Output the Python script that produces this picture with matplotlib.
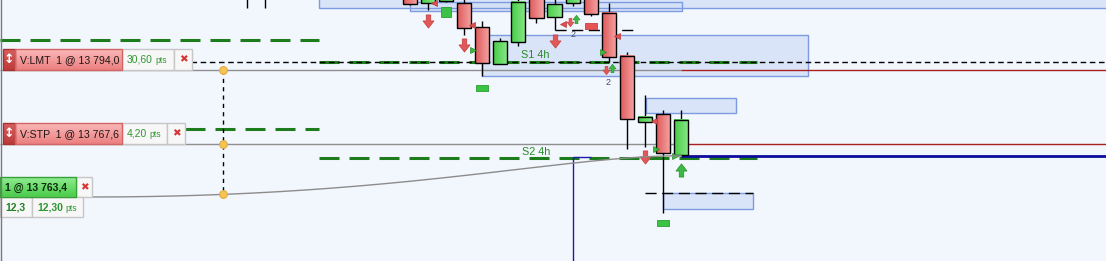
import numpy as np
import matplotlib
matplotlib.use("Agg")
import matplotlib.pyplot as plt
from matplotlib.patches import Rectangle, PathPatch
from matplotlib.path import Path
from matplotlib.colors import LinearSegmentedColormap

plt.rcParams["font.family"] = ["Liberation Sans", "DejaVu Sans"]
plt.rcParams["lines.scale_dashes"] = False

# ---------------- market data ----------------
bars   = [-9, -8, 0, 1, 2, 3, 4, 5, 6, 7, 8, 9, 10, 11, 12, 13, 14, 15]
opens  = [13826.0, 13824.0, 13822.0, 13817.9, 13818.5, 13817.9, 13809.3, 13796.1, 13804.0,
          13821.5, 13812.9, 13817.9, 13822.0, 13814.3, 13799.0, 13775.4, 13778.3, 13763.7]
highs  = [13829.0, 13829.0, 13823.5, 13821.0, 13822.0, 13820.0, 13811.5, 13805.4, 13821.0,
          13823.0, 13819.5, 13822.0, 13823.5, 13817.9, 13800.4, 13785.1, 13779.7, 13779.7]
lows   = [13816.1, 13816.1, 13817.3, 13815.4, 13818.3, 13806.5, 13791.9, 13796.1, 13802.6,
          13810.8, 13808.3, 13817.0, 13813.3, 13796.9, 13765.8, 13766.5, 13743.0, 13763.7]
closes = [13823.5, 13826.5, 13817.6, 13820.5, 13822.0, 13809.0, 13796.5, 13804.3, 13818.3,
          13812.6, 13817.5, 13821.0, 13814.0, 13798.6, 13776.5, 13777.2, 13764.4, 13776.2]

# support / resistance zones (bar range, price range)
zone_x0 = [-5.05, 0.0, 4.0, 13.05, 14.0]
zone_x1 = [40.0, 15.05, 22.0, 18.05, 19.0]
zone_lo = [13816.1, 13815.0, 13791.9, 13778.7, 13744.4]
zone_hi = [13830.0, 13818.3, 13806.5, 13784.0, 13750.1]

# horizontal levels
level_r_upper = 13804.7
level_s1 = 13797.0
level_stp_zone = 13772.9
level_s2 = 13762.6
level_tick = 13808.3
level_low_ref = 13750.1

# orders
lmt_price = 13794.0
stp_price = 13767.6
entry_price = 13763.4
order_labels = ["V:LMT  1 @ 13 794,0", "V:STP  1 @ 13 767,6"]
order_pts = ["30,60", "4,20"]
entry_label = "1 @ 13 763,4"
entry_qty_pts = ["12,3", "12,30"]

# signal markers (bar, price)
down_big_x = [1, 3, 8, 13]
down_big_y = [13811.5, 13802.9, 13804.3, 13763.0]
up_big_x = [15]
up_big_y = [13758.3]
down_small_x = [8.83, 10.86]
down_small_y = [13811.0, 13793.9]
up_small_x = [9.17, 11.17]
up_small_y = [13812.2, 13794.6]
count_x = [9.0, 10.97]
count_y = [13806.8, 13789.7]
count_txt = ["2", "2"]
sq_green_x = [2, 4, 14]
sq_green_y = [13814.7, 13787.6, 13739.4]
sq_red_x = [10]
sq_red_y = [13809.7]
tri_r_x = [3.5, 10.7, 13.6, 14.65]
tri_r_y = [13801.1, 13800.4, 13765.8, 13763.3]
tri_l_x = [1.35, 3.45, 8.45, 11.45, 13.5]
tri_l_y = [13817.9, 13809.9, 13810.5, 13806.2, 13775.7]

W, H = 1106, 261
BG = "#f2f6fd"

fig = plt.figure(figsize=(W / 100, H / 100), dpi=100)
fig.patch.set_facecolor(BG)
ax = fig.add_axes([0, 0, 1, 1])
ax.set_facecolor(BG)
XL = (-22.69, 38.52)
YL = (13725.86, 13818.97)
ax.set_xlim(*XL)
ax.set_ylim(*YL)
ax.axis("off")

ui = fig.add_axes([0, 0, 1, 1])
ui.set_xlim(0, W)
ui.set_ylim(H, 0)
ui.axis("off")
ui.patch.set_alpha(0)


def to_ui(bx, pr):
    X, Y = ax.transData.transform((bx, pr))
    return X, H - Y


def grad(a, x0, x1, y0, y1, c0, c1, horizontal, z):
    cmap = LinearSegmentedColormap.from_list("g", [c0, c1])
    g = np.linspace(0, 1, 64)
    img = g.reshape(1, -1) if horizontal else g.reshape(-1, 1)
    a.imshow(img, cmap=cmap, extent=(x0, x1, y0, y1), origin="lower" if horizontal else "upper",
             aspect="auto", interpolation="bilinear", zorder=z)


# ---------------- zones ----------------
for x0, x1, lo, hi in zip(zone_x0, zone_x1, zone_lo, zone_hi):
    ax.add_patch(Rectangle((x0, lo), x1 - x0, hi - lo, facecolor="#d3dff7", alpha=0.75,
                           edgecolor="none", zorder=1))
    ax.add_patch(Rectangle((x0, lo), x1 - x0, hi - lo, fill=False,
                           edgecolor="#7d9be0", lw=1, zorder=1.1))

# ---------------- levels ----------------
green_dash = (0, (14.4, 7.2))
gcol = "#1d7d1d"
ax.hlines(level_r_upper, XL[0], -5.05, color=gcol, lw=2.2, linestyle=green_dash, zorder=2)
ax.hlines(level_stp_zone, -12.45, -5.05, color=gcol, lw=2.2, linestyle=green_dash, zorder=2)
ax.hlines(level_s1, -5.05, 19.2, color=gcol, lw=2.2, linestyle=green_dash, zorder=2)
ax.hlines(level_s2, -5.05, 19.2, color=gcol, lw=2.2, linestyle=green_dash, zorder=2)
ax.hlines(level_s1, -12.1, XL[1], color="black", lw=1, linestyle=(0, (4.0, 2.6)), zorder=2.2)
ax.hlines(level_tick, 8.0, 12.5, color="black", lw=1, linestyle=(0, (8, 4)), zorder=2.1)
ax.hlines(level_low_ref, 13.0, 19.0, color="black", lw=1, linestyle=(0, (8, 4)), zorder=2.1)
ax.text(6.96, 13799.35, "S1 4h", color="#2a8a2a", fontsize=7.8, ha="center", va="center", zorder=2.3)
ax.text(6.96, 13764.75, "S2 4h", color="#2a8a2a", fontsize=7.8, ha="center", va="center", zorder=2.3)

# order lines: grey up to the last bar, dark red beyond it
last_bar = bars[-1]
for pr in (lmt_price, stp_price):
    ax.hlines(pr, XL[0], last_bar, color="#8f8f8f", lw=1, zorder=2.4)
    ax.hlines(pr, last_bar, XL[1], color="#a82020", lw=1, zorder=2.4)
ax.hlines(entry_price, last_bar, XL[1], color="#0c0c9c", lw=2, zorder=2.4)
ax.vlines(9.0, YL[0], 13763.0, color="#1c1ca8", lw=1, zorder=2.4)
ax.hlines(13763.0, 9.0, 10.0, color="#1c1ca8", lw=1, zorder=2.4)

# ---------------- candles ----------------
hw = 0.39
for b, o, h, l, c in zip(bars, opens, highs, lows, closes):
    ax.vlines(b, l, h, color="black", lw=1, zorder=3)
    lo, hi = min(o, c), max(o, c)
    if c >= o:
        grad(ax, b - hw, b + hw, lo, hi, "#46cc46", "#8ae88a", True, 3.1)
    else:
        grad(ax, b - hw, b + hw, lo, hi, "#e05a5a", "#f4a4a4", True, 3.1)
    ax.add_patch(Rectangle((b - hw, lo), 2 * hw, hi - lo, fill=False, edgecolor="black", lw=1, zorder=3.2))

# ---------------- markers ----------------
arrow_down = Path([(-0.2, 0.6), (0.2, 0.6), (0.2, 0.05), (0.5, 0.05), (0, -0.6),
                   (-0.5, 0.05), (-0.2, 0.05), (-0.2, 0.6)], closed=True)
arrow_up = Path([(x, -y) for x, y in arrow_down.vertices], closed=True)
rect_flat = Path([(-0.5, -0.27), (0.5, -0.27), (0.5, 0.27), (-0.5, 0.27), (-0.5, -0.27)], closed=True)
rect_sq = Path([(-0.5, -0.5), (0.5, -0.5), (0.5, 0.5), (-0.5, 0.5), (-0.5, -0.5)], closed=True)

ax.plot(down_big_x, down_big_y, ls="none", marker=arrow_down, ms=9.4, mfc="#e25858", mec="#c84444", mew=0.6, zorder=4)
ax.plot(up_big_x, up_big_y, ls="none", marker=arrow_up, ms=9.4, mfc="#3db844", mec="#2a962f", mew=0.6, zorder=4)
ax.plot(down_small_x, down_small_y, ls="none", marker=arrow_down, ms=6, mfc="#e25858", mec="#c84444", mew=0.5, zorder=4)
ax.plot(up_small_x, up_small_y, ls="none", marker=arrow_up, ms=6, mfc="#3db844", mec="#2a962f", mew=0.5, zorder=4)
ax.plot(sq_green_x[:1], sq_green_y[:1], ls="none", marker=rect_sq, ms=7.4, mfc="#3cc244", mec="#2aa030", mew=0.6, zorder=4)
ax.plot(sq_green_x[1:], sq_green_y[1:], ls="none", marker=rect_flat, ms=8.8, mfc="#3cc244", mec="#2aa030", mew=0.6, zorder=4)
ax.plot(sq_red_x, sq_red_y, ls="none", marker=rect_flat, ms=9.0, mfc="#e85454", mec="#c84040", mew=0.6, zorder=4)
ax.plot(tri_r_x, tri_r_y, ls="none", marker=">", ms=4.5, mfc="#3cb843", mec="#2a8a2a", mew=0.5, zorder=4)
ax.plot(tri_l_x, tri_l_y, ls="none", marker="<", ms=4.5, mfc="#e05050", mec="#b83838", mew=0.5, zorder=4)
for x, y, t in zip(count_x, count_y, count_txt):
    ax.text(x, y, t, fontsize=6.5, color="#4a4a6a", ha="center", va="center", zorder=4)

# ---------------- order tags ----------------
ax.set_xlim(*XL)
ax.set_ylim(*YL)
renderer = fig.canvas.get_renderer()
TAG_H = 21
box_fc, box_ec = "#f7f7f7", "#c6c6c6"


def pts_text(x, yc, val, bold=False):
    t = ui.text(x, yc, val, color="#2f962f", fontsize=7.5, va="center", ha="left",
                fontweight="bold" if bold else "normal", zorder=8)
    bb = t.get_window_extent(renderer)
    ui.text(bb.x1 + 2.5, yc + 0.8, "pts", color="#2f962f", fontsize=6.2, va="center", ha="left", zorder=8)


def close_box(x, top, w, h):
    ui.add_patch(Rectangle((x, top), w, h, facecolor=box_fc, edgecolor=box_ec, lw=1, zorder=6))
    ui.text(x + w / 2, top + h / 2, "\u2716", color="#d83636", fontsize=7.5, ha="center", va="center",
            family="DejaVu Sans", zorder=8)


pts_w = [52, 45]
tag_y = []
for pr, lab, pv, pw in zip((lmt_price, stp_price), order_labels, order_pts, pts_w):
    yb = to_ui(0, pr)[1]
    top = yb - TAG_H
    tag_y.append(yb)
    grad(ui, 3, 15, yb, top, "#d66060", "#bd3a3a", False, 6)
    ui.add_patch(Rectangle((3, top), 12, TAG_H, fill=False, edgecolor="#a83232", lw=1, zorder=6.5))
    ui.text(9, top + TAG_H / 2, "\u2195", color="white", fontsize=9, fontweight="bold",
            ha="center", va="center", family="DejaVu Sans", zorder=8)
    grad(ui, 15, 122, yb, top, "#f9b8b8", "#ec8080", False, 6)
    ui.add_patch(Rectangle((15, top), 107, TAG_H, fill=False, edgecolor="#d26464", lw=1, zorder=6.5))
    ui.text(20, top + TAG_H / 2 + 0.5, lab, fontsize=7.6, color="#241414", va="center", ha="left", zorder=8)
    ui.add_patch(Rectangle((122, top), pw, TAG_H, facecolor=box_fc, edgecolor=box_ec, lw=1, zorder=6))
    pts_text(127, top + TAG_H / 2 + 0.5, pv)
    close_box(122 + pw, top, 18, TAG_H)

# entry tag
e_top, e_h = 177, 20
grad(ui, 0, 76, e_top + e_h, e_top, "#92ec92", "#48cc48", False, 6)
ui.add_patch(Rectangle((0, e_top), 76, e_h, fill=False, edgecolor="#36a036", lw=1, zorder=6.5))
ui.text(5, e_top + e_h / 2 + 0.5, entry_label, fontsize=7.5, fontweight="bold", color="#0e2a0e",
        va="center", ha="left", zorder=8)
close_box(76, e_top, 16, e_h)
r2 = e_top + e_h
ui.add_patch(Rectangle((0, r2), 32, 20, facecolor=box_fc, edgecolor=box_ec, lw=1, zorder=6))
ui.text(5, r2 + 10.5, entry_qty_pts[0], color="#247f24", fontsize=7.5, fontweight="bold",
        va="center", ha="left", zorder=8)
ui.add_patch(Rectangle((32, r2), 51, 20, facecolor=box_fc, edgecolor=box_ec, lw=1, zorder=6))
pts_text(37, r2 + 10.5, entry_qty_pts[1], bold=True)

# connector from entry tag to the entry bar
ex, ey = to_ui(last_bar, entry_price)
p0 = np.array([92.0, r2])
p3 = np.array([ex, ey])
p1 = np.array([400.0, r2])
p2 = np.array([560.0, ey])
t = np.linspace(0, 1, 200)[:, None]
curve = (1 - t) ** 3 * p0 + 3 * (1 - t) ** 2 * t * p1 + 3 * (1 - t) * t ** 2 * p2 + t ** 3 * p3
ui.plot(curve[:, 0], curve[:, 1], color="#8c8c8c", lw=1, zorder=5)

# dashed link between the tags and handles
hx = 222.5
cy = np.interp(hx, curve[:, 0], curve[:, 1])
ui.plot([hx, hx], [tag_y[0], cy], color="black", lw=1, linestyle=(0, (3, 3)), zorder=5.5)
ui.plot([hx] * 3, [tag_y[0], tag_y[1], cy], ls="none", marker="o", ms=5.6,
        mfc="#f6c452", mec="#e0a73a", mew=0.7, zorder=7)

# frame edge
ui.plot([0.5, 0.5], [0, H], color="#7a7a7a", lw=1, zorder=9)

fig.savefig("out.png", dpi=100, facecolor=BG)
